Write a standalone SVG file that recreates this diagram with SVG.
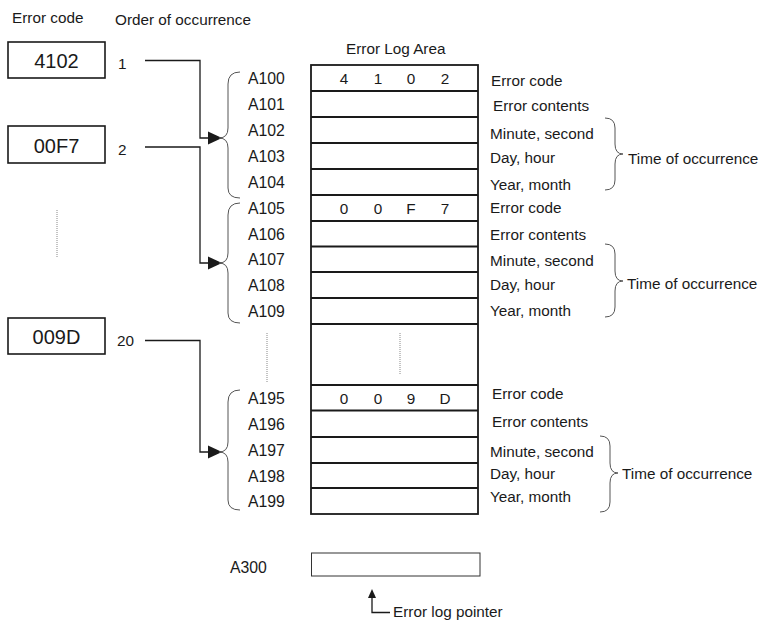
<svg xmlns="http://www.w3.org/2000/svg" width="763" height="620" viewBox="0 0 763 620">
<style>
text{font-family:"Liberation Sans",Arial,sans-serif;font-size:15.3px;fill:#1a1a1a}
.big{font-size:20px;text-anchor:middle}
.mid{text-anchor:middle}
.adr{font-size:15.8px}
.box{fill:#fff;stroke:#1a1a1a;stroke-width:1.6}
.cell{fill:none;stroke:#1a1a1a;stroke-width:1.8}
.conn{fill:none;stroke:#1a1a1a;stroke-width:1.3}
.brace{fill:none;stroke:#555;stroke-width:1}
.dot{stroke:#888;stroke-width:1;stroke-dasharray:1 1}
.ah{fill:#1a1a1a}
</style>
<g id="headers">
<text x="12" y="23">Error code</text>
<text x="115" y="25">Order of occurrence</text>
<text x="346" y="54">Error Log Area</text>
</g>
<g id="code-4102"><rect class="box" x="8" y="42" width="97" height="36"/><text class="big" x="56.5" y="68">4102</text><text x="118" y="69">1</text></g>
<g id="code-00F7"><rect class="box" x="8" y="126" width="97" height="37"/><text class="big" x="56.5" y="153">00F7</text><text x="118" y="155">2</text></g>
<g id="code-009D"><rect class="box" x="8" y="318" width="97" height="36"/><text class="big" x="56.5" y="344">009D</text><text x="117" y="346">20</text></g>
<g id="dots">
<line class="dot" x1="57" y1="210" x2="57" y2="258"/>
<line class="dot" x1="267" y1="333" x2="267" y2="382"/>
<line class="dot" x1="400" y1="333" x2="400" y2="375"/>
</g>
<g id="connectors">
<polyline class="conn" points="145,60.5 200,60.5 200,138 210,138"/>
<polygon class="ah" points="222,138 208,131.5 208,144.5"/>
<polyline class="conn" points="145,147 200,147 200,263 210,263"/>
<polygon class="ah" points="222,263 208,256.5 208,269.5"/>
<polyline class="conn" points="145,340.5 200,340.5 200,452 210,452"/>
<polygon class="ah" points="222,452 208,445.5 208,458.5"/>
<polyline class="conn" points="390,612.5 372,612.5 372,597"/>
<polygon class="ah" points="372,589 368,598 376,598"/>
</g>
<g id="left-braces">
<path class="brace" d="M240,72 Q228,72 228,84 L228,128 Q228,138 219,138 Q228,138 228,148 L228,188 Q228,198 240,198"/>
<path class="brace" d="M240,203 Q228,203 228,215 L228,253 Q228,263 219,263 Q228,263 228,273 L228,313 Q228,323 240,323"/>
<path class="brace" d="M240,390 Q228,390 228,402 L228,442 Q228,452 219,452 Q228,452 228,462 L228,500 Q228,510 240,510"/>
</g>
<g id="error-log-area">
<rect class="cell" x="311" y="65" width="167" height="449"/>
<path class="cell" d="M311,91H478M311,117H478M311,143H478M311,169H478M311,195H478M311,221H478M311,246.5H478M311,272H478M311,298H478M311,324H478M311,385H478M311,410.5H478M311,437H478M311,463H478M311,488H478"/>
<text class="mid" x="344" y="84">4</text><text class="mid" x="378" y="84">1</text><text class="mid" x="411" y="84">0</text><text class="mid" x="445" y="84">2</text>
<text class="mid" x="344" y="214">0</text><text class="mid" x="378" y="214">0</text><text class="mid" x="411" y="214">F</text><text class="mid" x="445" y="214">7</text>
<text class="mid" x="344" y="403.5">0</text><text class="mid" x="378" y="403.5">0</text><text class="mid" x="411" y="403.5">9</text><text class="mid" x="445" y="403.5">D</text>
</g>
<g id="addresses">
<text class="adr" x="248" y="84">A100</text>
<text class="adr" x="248" y="110">A101</text>
<text class="adr" x="248" y="136">A102</text>
<text class="adr" x="248" y="162">A103</text>
<text class="adr" x="248" y="188">A104</text>
<text class="adr" x="248" y="214">A105</text>
<text class="adr" x="248" y="239.5">A106</text>
<text class="adr" x="248" y="265">A107</text>
<text class="adr" x="248" y="291">A108</text>
<text class="adr" x="248" y="317">A109</text>
<text class="adr" x="248" y="403.5">A195</text>
<text class="adr" x="248" y="429.5">A196</text>
<text class="adr" x="248" y="456">A197</text>
<text class="adr" x="248" y="481.5">A198</text>
<text class="adr" x="248" y="507">A199</text>
<text class="adr" x="230" y="573">A300</text>
</g>
<g id="descriptions">
<text x="491" y="85.5">Error code</text>
<text x="493" y="111">Error contents</text>
<text x="490" y="139">Minute, second</text>
<text x="490" y="163">Day, hour</text>
<text x="490" y="190">Year, month</text>
<text x="490" y="213">Error code</text>
<text x="490" y="240">Error contents</text>
<text x="490" y="266">Minute, second</text>
<text x="490" y="290">Day, hour</text>
<text x="490" y="316">Year, month</text>
<text x="492" y="399">Error code</text>
<text x="492" y="427">Error contents</text>
<text x="490" y="456.5">Minute, second</text>
<text x="490" y="478.5">Day, hour</text>
<text x="490" y="502">Year, month</text>
</g>
<g id="right-braces">
<path class="brace" d="M605,118 Q615,118 615,128 L615,144 Q615,154 623,154 Q615,154 615,164 L615,180 Q615,190 605,190"/>
<text x="628" y="164">Time of occurrence</text>
<path class="brace" d="M605,244 Q615,244 615,254 L615,271 Q615,281 623,281 Q615,281 615,291 L615,307 Q615,317 605,317"/>
<text x="627" y="289">Time of occurrence</text>
<path class="brace" d="M600,436 Q610,436 610,446 L610,463 Q610,473 618,473 Q610,473 610,483 L610,502 Q610,512 600,512"/>
<text x="622" y="479">Time of occurrence</text>
</g>
<g id="a300"><rect x="311.5" y="553" width="168.5" height="23" fill="#fff" stroke="#333" stroke-width="1"/></g>
<g id="pointer-label"><text x="393" y="617">Error log pointer</text></g>
</svg>
